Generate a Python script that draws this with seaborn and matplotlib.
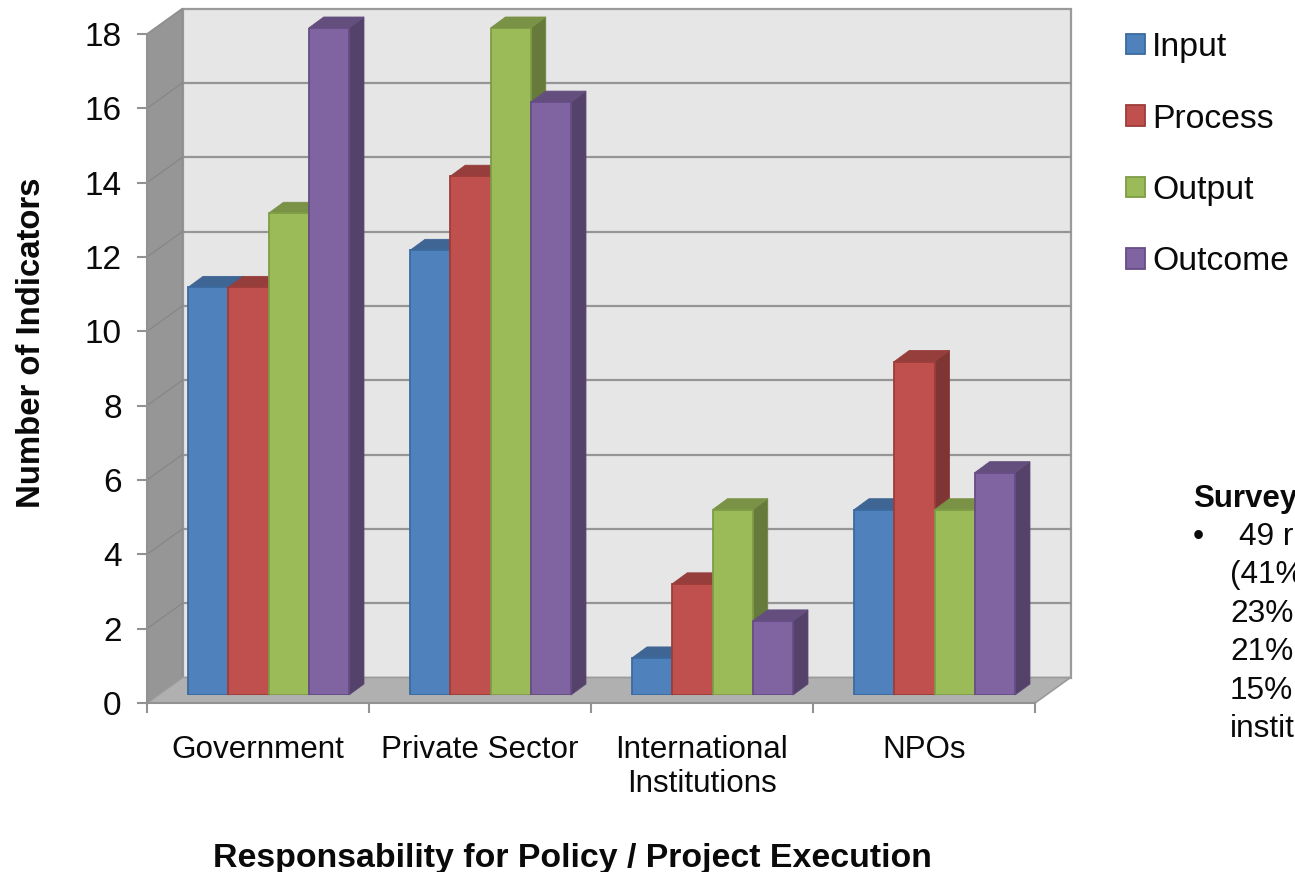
import matplotlib
matplotlib.use("Agg")
import matplotlib.pyplot as plt
import matplotlib.patches as mpatches
import pandas as pd
import seaborn as sns

# Indicator counts per responsible actor and indicator type
groups = ["Government", "Private Sector", "International\nInstitutions", "NPOs"]
series = ["Input", "Process", "Output", "Outcome"]
input_counts = [11, 12, 1, 5]
process_counts = [11, 14, 3, 9]
output_counts = [13, 18, 5, 5]
outcome_counts = [18, 16, 2, 6]
y_ticks = list(range(0, 20, 2))
survey_lines = ["49 r", "(41%", "23%", "21%", "15%", "instit"]

colors = ["#4F81BD", "#C0504D", "#9BBB59", "#8064A2"]
edges = ["#3B6A9E", "#9C3D3A", "#7F9C45", "#664D85"]

W, H = 1295, 872
FONT = ["Liberation Sans", "DejaVu Sans"]
AXIS_GREY = "#929292"
INK = "#0A0A0A"

sns.set_theme(style="white")
plt.rcParams["font.family"] = FONT
plt.rcParams["text.color"] = INK
plt.rcParams["axes.labelcolor"] = INK
plt.rcParams["xtick.labelcolor"] = INK
plt.rcParams["ytick.labelcolor"] = INK

frame = pd.DataFrame({
    "group": groups * 4,
    "series": [s for s in series for _ in groups],
    "count": input_counts + process_counts + output_counts + outcome_counts,
})


def box(left, right, bottom, top):
    """Axes rectangle from pixel edges measured from the top-left corner."""
    return [left / W, 1 - bottom / H, (right - left) / W, (bottom - top) / H]


def shade(color, factor):
    r, g, b = matplotlib.colors.to_rgb(color)
    return (r * factor, g * factor, b * factor)


fig = plt.figure(figsize=(W / 100, H / 100), dpi=100, facecolor="white")

# Front plane carries the axes, the walls and the floor
ax = fig.add_axes(box(147, 1035, 703, 34), zorder=1)
ax.set_xlim(-0.5, 3.5)
ax.set_ylim(0, 18)
ax.patch.set_visible(False)
dx = 35.5 / 222
dy = 25.5 / (669 / 18)

x0, x1, y0, y1 = -0.5, 3.5, 0, 18
ax.add_patch(mpatches.Polygon(
    [(x0 + dx, y0 + dy), (x1 + dx, y0 + dy), (x1 + dx, y1 + dy), (x0 + dx, y1 + dy)],
    closed=True, facecolor="#E6E6E6", edgecolor="#9A9A9A", lw=1.6, clip_on=False, zorder=1))
ax.add_patch(mpatches.Polygon(
    [(x0, y0), (x0 + dx, y0 + dy), (x0 + dx, y1 + dy), (x0, y1)],
    closed=True, facecolor="#969696", edgecolor="#8E8E8E", lw=1.2, clip_on=False, zorder=1.2))
ax.add_patch(mpatches.Polygon(
    [(x0, y0), (x1, y0), (x1 + dx, y0 + dy), (x0 + dx, y0 + dy)],
    closed=True, facecolor="#B0B0B0", edgecolor="#9A9A9A", lw=1.2, clip_on=False, zorder=1.2))
for v in y_ticks[1:-1]:
    ax.plot([x0 + dx, x1 + dx], [v + dy, v + dy], color="#959595", lw=1.6,
            clip_on=False, zorder=1.1)
    ax.plot([x0, x0 + dx], [v, v + dy], color="#858585", lw=0.8,
            clip_on=False, zorder=1.3)

for side in ("top", "right"):
    ax.spines[side].set_visible(False)
for side in ("left", "bottom"):
    ax.spines[side].set_color(AXIS_GREY)
    ax.spines[side].set_linewidth(1.5)
    ax.spines[side].set_zorder(1.5)

ax.set_yticks(y_ticks)
ax.set_xticks([-0.5, 0.5, 1.5, 2.5, 3.5])
ax.set_xticklabels([])
ax.set_xticks([0, 1, 2, 3], labels=groups, minor=True)
ax.tick_params(axis="y", which="major", length=7.2, width=1.5, color=AXIS_GREY,
               labelsize=24, pad=11, left=True)
ax.tick_params(axis="x", which="major", length=7.2, width=1.5, color=AXIS_GREY, bottom=True)
ax.tick_params(axis="x", which="minor", length=0, labelsize=22.6, pad=23)
for label in ax.get_xticklabels(minor=True):
    label.set_linespacing(1.16)
ax.set_xlabel("Responsability for Policy / Project Execution", fontsize=24.4,
              fontweight="bold", labelpad=0)
ax.xaxis.set_label_coords((572 - 147) / 888, -(858 - 703) / 669, transform=ax.transAxes)
ax.xaxis.label.set_verticalalignment("center")
ax.set_ylabel("Number of Indicators", fontsize=23.7, fontweight="bold")
ax.yaxis.set_label_coords((32 - 147) / 888, (703 - 343) / 669, transform=ax.transAxes)
ax.yaxis.label.set_verticalalignment("center")

# Bars sit on a plane slightly behind the front edge of the floor
bar_ax = fig.add_axes(box(157.5, 1045.5, 695, 28), zorder=2)
sns.barplot(data=frame, x="group", y="count", hue="series", order=groups,
            hue_order=series, palette=colors, width=0.725, gap=0, saturation=1,
            legend=False, ax=bar_ax)
bar_ax.set_xlim(-0.5, 3.5)
bar_ax.set_ylim(0, 18)
bar_ax.axis("off")

bx = 15 / 222
by = 11 / (667 / 18)
for i, container in enumerate(bar_ax.containers):
    for rect in container:
        left, base = rect.get_x(), rect.get_y()
        w, h = rect.get_width(), rect.get_height()
        right, top = left + w, base + h
        z = 3 + i
        rect.set_edgecolor(edges[i])
        rect.set_linewidth(1.3)
        rect.set_zorder(z + 0.5)
        bar_ax.add_patch(mpatches.Polygon(
            [(right, base), (right + bx, base + by), (right + bx, top + by), (right, top)],
            closed=True, facecolor=shade(colors[i], 0.66), edgecolor=shade(colors[i], 0.72),
            lw=0.6, clip_on=False, zorder=z))
        bar_ax.add_patch(mpatches.Polygon(
            [(left, top), (right, top), (right + bx, top + by), (left + bx, top + by)],
            closed=True, facecolor=shade(colors[i], 0.78), edgecolor=shade(colors[i], 0.78),
            lw=0.6, clip_on=False, zorder=z + 0.2))

handles = [mpatches.Patch(facecolor=c, edgecolor=e, linewidth=1.3) for c, e in zip(colors, edges)]
fig.legend(handles, series, loc="upper left", bbox_to_anchor=(1126 / W, 1 - 32 / H),
           frameon=False, fontsize=24.3, borderaxespad=0, borderpad=0,
           handlelength=0.56, handleheight=0.56, handletextpad=0.22, labelspacing=1.2)

# Survey note running off the right-hand edge
fig.text(1193 / W, 1 - 499 / H, "Survey", fontsize=22.5, fontweight="bold", va="center", ha="left")
fig.text(1193 / W, 1 - 537 / H, "\u2022", fontsize=22.8, va="center", ha="left")
survey_x = [1239] + [1230] * 5
for k, line in enumerate(survey_lines):
    fig.text(survey_x[k] / W, 1 - (537 + 38.4 * k) / H, line, fontsize=22.8, va="center", ha="left")

fig.savefig("out.png", dpi=100)
